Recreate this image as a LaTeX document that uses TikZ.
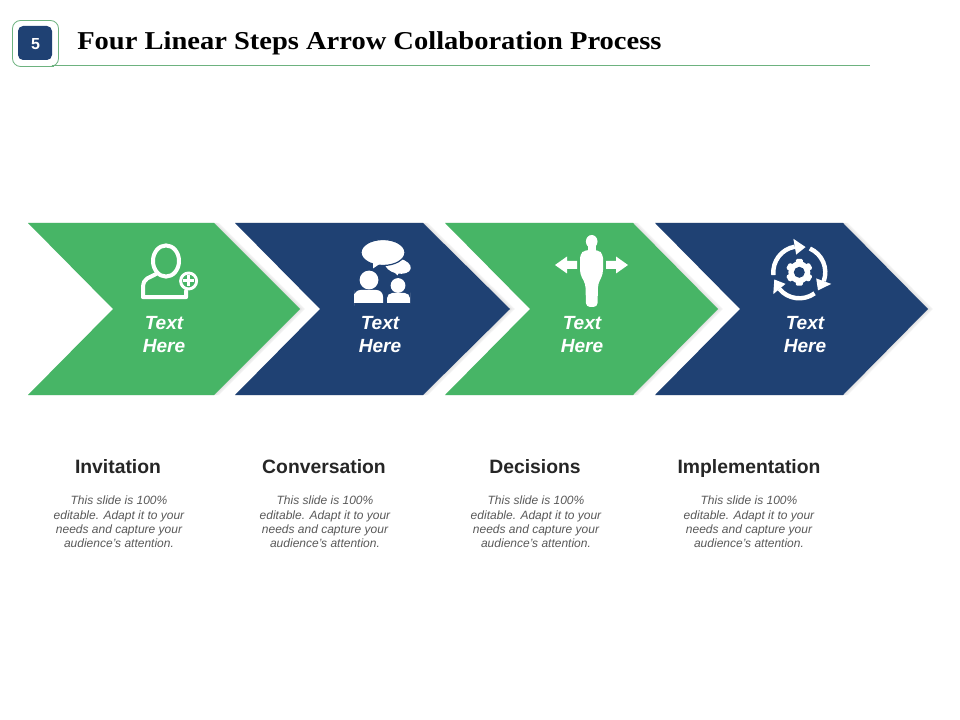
\documentclass[tikz,border=0pt]{standalone}
\usepackage{fontspec}
\setmainfont{Liberation Sans}
\newfontfamily\titlefont[FakeStretch=1.108]{Liberation Serif}
\definecolor{navy}{HTML}{1F4173}
\definecolor{leaf}{HTML}{47B566}
\definecolor{rule}{HTML}{6DB27F}
\definecolor{headc}{HTML}{262626}
\definecolor{bodyc}{HTML}{595959}
\tikzset{
  chevshadow/.style={fill=black!30,opacity=.10},
  iconline/.style={draw=white,line width=3pt,line join=round,line cap=round},
  iconfill/.style={fill=white},
  steplabel/.style={text=white,align=center,font=\fontsize{14.3}{17.25}\selectfont\bfseries\itshape},
  headlabel/.style={anchor=base,text=headc,font=\fontsize{14.5}{17}\selectfont\bfseries},
  bodylabel/.style={text=bodyc,align=center,font=\fontsize{9}{10.7}\selectfont\itshape},
}
\newcommand{\chevron}[4]{%
  \foreach \off in {1,2.5,4,5}{
    \fill[chevshadow,xshift=\off*0.75pt] (#1,223)--(#1+#4,223)--(#1+#2,309)--(#1+#4,395)--(#1,395)--(#1+85,309)--cycle;}
  \fill[#3] (#1,223)--(#1+#4,223)--(#1+#2,309)--(#1+#4,395)--(#1,395)--(#1+85,309)--cycle;
}
\begin{document}
\begin{tikzpicture}[x=0.75pt,y=-0.75pt]
\useasboundingbox (0,0) rectangle (960,720);
\fill[white] (0,0) rectangle (960,720);
% header
\draw[rule,line width=0.6pt] (52,65.5) -- (870,65.5);
\draw[rule,line width=0.6pt,rounded corners=6pt] (12.5,20.5) rectangle (58.5,66.5);
\draw[rule,line width=1.2pt] (35,66.5) -- (54,66.5);
\fill[navy,rounded corners=3.8pt] (18,26) rectangle (52,60);
\node[text=white,font=\fontsize{12}{14}\selectfont\bfseries] (badge) at (35.5,44) {5};
\node[anchor=base west,inner sep=0pt,text=black,font=\titlefont\fontsize{19.3}{22}\selectfont\bfseries] (title) at (77,50) {Four Linear Steps Arrow Collaboration Process};
% chevrons
\chevron{28}{272}{leaf}{186}
\chevron{235}{275}{navy}{188}
\chevron{445}{273}{leaf}{188}
\chevron{655}{273}{navy}{188}
% user-plus icon
\draw[iconline] (166,261) ellipse[x radius=13,y radius=15.6];
\draw[iconline] (156,274) .. controls (150,278) and (143,277) .. (143,288) -- (143,297.2) -- (186,297.2) -- (186,291);
\draw[iconline,line width=2.2pt,fill=leaf] (188.6,281) circle[radius=8];
\fill[white] (187.1,275.5) rectangle (190.1,286.5);
\fill[white] (183.1,279.5) rectangle (194.1,282.5);
% talk icon
\fill[iconfill,rotate around={-12:(398,266)}] (398,266) ellipse[x radius=13,y radius=7.5];
\fill[iconfill] (393,271) -- (397.5,275.5) -- (400,270) -- cycle;
\fill[iconfill,draw=navy,line width=0.9pt] (383,252.5) ellipse[x radius=22,y radius=13];
\fill[iconfill] (373,261) -- (373,268.5) -- (381,263) -- cycle;
\fill[iconfill,rounded corners=5pt] (354,303) -- (354,299) [sharp corners] -- (354,303) -- (383,303) [rounded corners=5pt] -- (383,290) -- (354,290) -- (354,297) [sharp corners] -- cycle;
\fill[iconfill] (369,280) circle[radius=9.4];
\fill[iconfill,rounded corners=4pt] (387,298) -- (387,293) -- (410,293) -- (410,298) [sharp corners] -- (410,303) -- (387,303) -- cycle;
\fill[iconfill] (398,285.5) circle[radius=7.4];
% person with arrows
\fill[iconfill] (591.7,241.5) ellipse[x radius=5.8,y radius=6.5];
\fill[iconfill] (588,245) rectangle (595.5,252);
\fill[iconfill,rounded corners=3pt] (586,307) -- (585.5,284) -- (580,274) -- (580,254) -- (585,250) -- (598,250) -- (603,254) -- (603,274) -- (598,284) -- (597.5,307) -- cycle;
\fill[iconfill] (555,265) -- (567,256.5) -- (567,261) -- (577,261) -- (577,269) -- (567,269) -- (567,273.5) -- cycle;
\fill[iconfill] (628,265) -- (616,256.5) -- (616,261) -- (606,261) -- (606,269) -- (616,269) -- (616,273.5) -- cycle;
% cycle gear icon
\begin{scope}[shift={(799.3,272.3)}]
  \foreach \s in {-186,-66,54}{
    \pgfmathsetmacro{\e}{\s+86}
    \pgfmathsetmacro{\t}{\s+110}
    \draw[white,line width=3.3pt] (\s:26) arc[start angle=\s,end angle=\e,radius=26];
    \fill[white] (\e:18) -- (\e:34) -- (\t:26) -- cycle;
  }
  \foreach \a in {30,90,...,330}{
    \fill[white,rotate=\a,rounded corners=1pt] (8,-3.5) rectangle (13.4,3.5);
  }
  \fill[white] (0,0) circle[radius=11];
  \fill[navy] (0,0) circle[radius=5.5];
\end{scope}
% step labels
\node[steplabel] (t1) at (164,334.5) {Text\\Here};
\node[steplabel] (t2) at (380,334.5) {Text\\Here};
\node[steplabel] (t3) at (582,334.5) {Text\\Here};
\node[steplabel] (t4) at (805,334.5) {Text\\Here};
% headings
\node[headlabel] (h1) at (118,473) {Invitation};
\node[headlabel] (h2) at (324,473) {Conversation};
\node[headlabel] (h3) at (535,473) {Decisions};
\node[headlabel] (h4) at (749,473) {Implementation};
% body
\node[bodylabel] (b1) at (119,522) {This slide is 100\%\\editable. Adapt it to your\\needs and capture your\\audience's attention.};
\node[bodylabel] (b2) at (325,522) {This slide is 100\%\\editable. Adapt it to your\\needs and capture your\\audience's attention.};
\node[bodylabel] (b3) at (536,522) {This slide is 100\%\\editable. Adapt it to your\\needs and capture your\\audience's attention.};
\node[bodylabel] (b4) at (749,522) {This slide is 100\%\\editable. Adapt it to your\\needs and capture your\\audience's attention.};
\end{tikzpicture}
\end{document}
